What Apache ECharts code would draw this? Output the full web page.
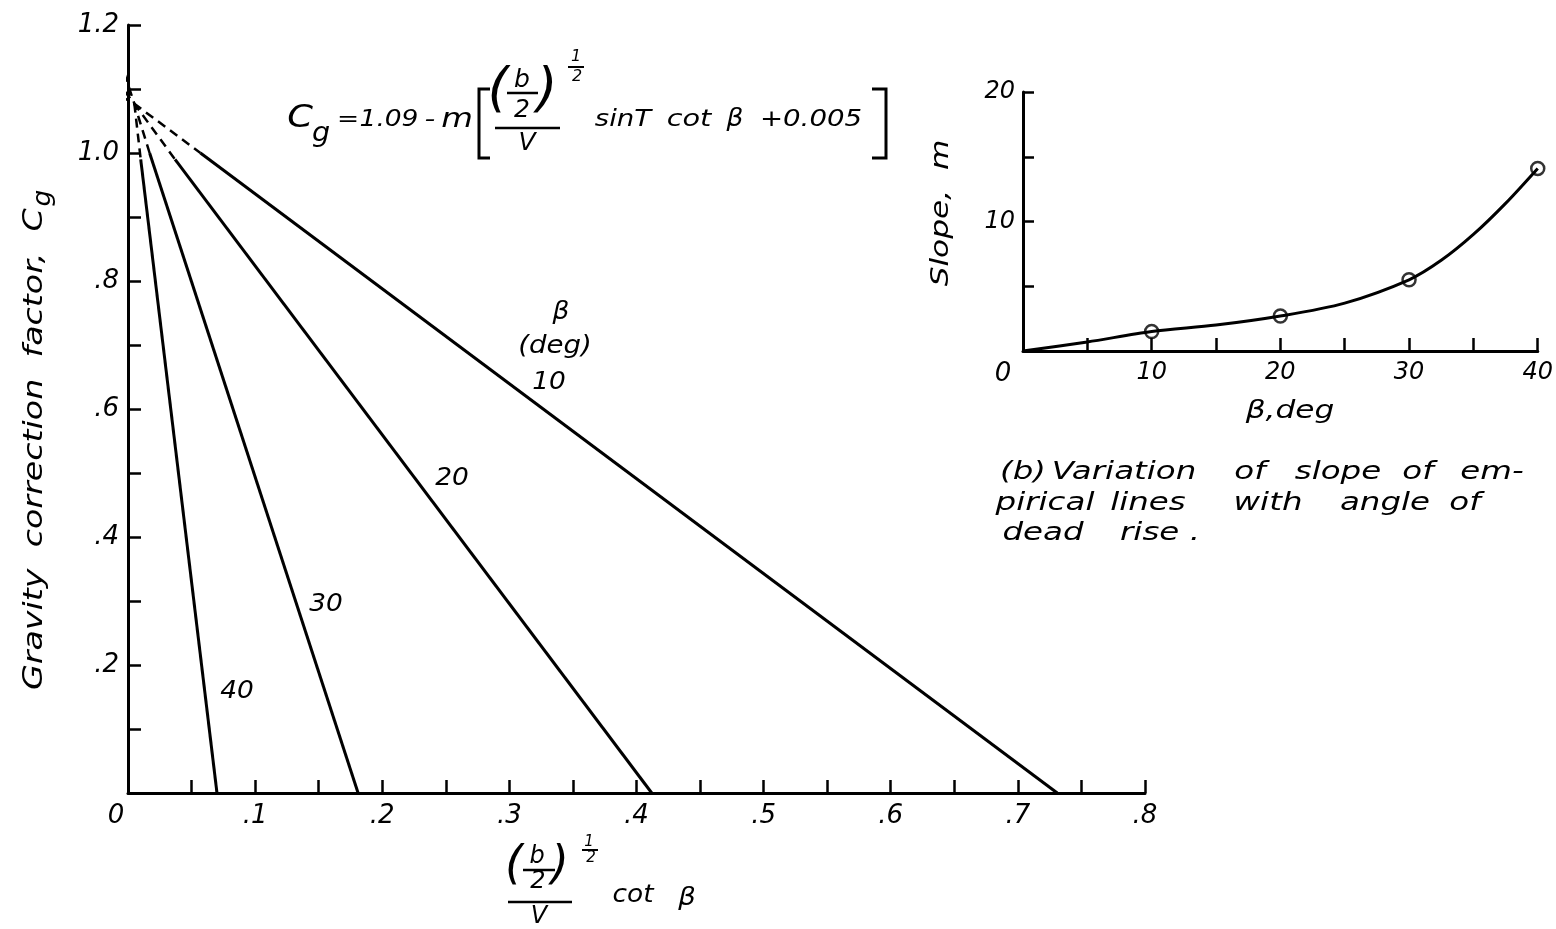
<!DOCTYPE html>
<html><head><meta charset="utf-8">
<script src="https://cdn.jsdelivr.net/npm/echarts@6/dist/echarts.min.js"></script>
<style>html,body{margin:0;padding:0;background:#fff}#c{width:1556px;height:929px}</style>
</head><body><div id="c"></div>
<script>
// ---- main chart data: empirical lines, one per dead-rise angle ----
const betaLabels = ['10', '20', '30', '40'];
const convergence = [0.005, 1.077];
const dashTopX = [-0.016, -0.010, -0.003, null];
const dashTopY = [1.100, 1.115, 1.125, null];
const solidStartX = [0.057, 0.037, 0.017, 0.010];
const solidStartY = [1.000, 0.990, 1.000, 0.990];
const xIntercept = [0.731, 0.412, 0.181, 0.070];
const mainXTicks = ['0', '.1', '.2', '.3', '.4', '.5', '.6', '.7', '.8'];
const mainYTicks = ['', '.2', '.4', '.6', '.8', '1.0', '1.2'];

// ---- inset (b): slope m vs beta ----
const slopeBeta = [10, 20, 30, 40];
const slopeM = [1.5, 2.7, 5.5, 14.1];
const curveBeta = [0, 5, 10, 15, 20, 25, 30, 32.5, 35, 37.5, 40];
const curveM = [0, 0.7, 1.5, 2.0, 2.7, 3.7, 5.5, 7.0, 9.0, 11.4, 14.1];
const insetXTicks = ['0', '10', '20', '30', '40'];
const insetYTicks = ['', '10', '20'];

const FF = '"DejaVu Sans"';
const fnt = s => `italic ${s}px ${FF}`;
function T(text, x, y, size, sx, extra) {
  return Object.assign({type: 'text', x: x, y: y, silent: true, z: 10, scaleX: sx || 1,
    style: {text: text, x: 0, y: 0, font: fnt(size), fill: '#000',
      align: 'center', verticalAlign: 'middle', textAlign: 'center', textVerticalAlign: 'middle'}}, extra || {});
}
function L(points, w) {
  return {type: 'polyline', silent: true, z: 10, shape: {points: points},
    style: {stroke: '#000', lineWidth: w || 2.5, fill: null}};
}
function pick(arr, v, step) {
  const k = v / step, r = Math.round(k);
  return Math.abs(k - r) < 1e-6 ? (arr[r] !== undefined ? arr[r] : '') : '';
}

const chart = echarts.init(document.getElementById('c'), null, {renderer: 'canvas'});

const axisBase = (fs) => ({
  type: 'value',
  axisLine: {show: true, onZero: false, lineStyle: {color: '#000', width: 3}},
  splitLine: {show: false},
  axisTick: {show: true, inside: true, length: 13, lineStyle: {color: '#000', width: 2.5}},
  axisLabel: {color: '#000', fontFamily: 'DejaVu Sans', fontStyle: 'italic', fontSize: fs, showMinLabel: true, showMaxLabel: true}
});

const series = [];
betaLabels.forEach((b, i) => {
  const dashed = [];
  if (dashTopX[i] !== null) dashed.push([dashTopX[i], dashTopY[i]]);
  dashed.push([convergence[0], convergence[1]]);
  dashed.push([solidStartX[i], solidStartY[i]]);
  series.push({type: 'line', name: b + ' dashed', xAxisIndex: 0, yAxisIndex: 0, data: dashed,
    symbol: 'none', clip: false, lineStyle: {color: '#000', width: 2.5, type: [9, 6]}});
  series.push({type: 'line', name: b, xAxisIndex: 0, yAxisIndex: 0,
    data: [[solidStartX[i], solidStartY[i]], [xIntercept[i], 0]],
    symbol: 'none', clip: false, lineStyle: {color: '#000', width: 3}});
});
series.push({type: 'line', xAxisIndex: 1, yAxisIndex: 1, data: curveBeta.map((b, i) => [b, curveM[i]]),
  smooth: 0.3, symbol: 'none', lineStyle: {color: '#000', width: 3}});
series.push({type: 'scatter', xAxisIndex: 1, yAxisIndex: 1, data: slopeBeta.map((b, i) => [b, slopeM[i]]),
  symbol: 'circle', symbolSize: 13, z: 5,
  itemStyle: {color: 'rgba(255,255,255,0)', borderColor: '#000', borderWidth: 2.5}});

// rotated y title with subscript g
const ctx = document.createElement('canvas').getContext('2d');
ctx.font = fnt(26);
const yTitle = 'Gravity  correction  factor,  C';
const yScale = 1.28;
const yTitleW = ctx.measureText(yTitle).width * yScale;
const yTitleCenter = 690 - yTitleW / 2;

const g = [];
g.push(T(yTitle, 35, yTitleCenter, 26, yScale, {rotation: Math.PI / 2}));
g.push(T('g', 44, 690 - yTitleW - 10, 24, 1.1, {rotation: Math.PI / 2}));
// equation at top
g.push(T('C', 300, 119, 32, 1.15));
g.push(T('g', 321, 134, 26, 1.1));
g.push(T('=', 348, 120, 22, 1.2));
g.push(T('1.09', 389, 120, 23, 1.15));
g.push(T('-', 430, 120, 23, 1.3));
g.push(T('m', 457, 120, 26, 1.25));
g.push(L([[490, 89], [479, 89], [479, 158], [490, 158]], 3));
g.push(T('(', 498, 92, 54));
g.push(T('b', 522, 80, 25));
g.push(L([[507, 93], [538, 93]], 2.5));
g.push(T('2', 522, 110, 25));
g.push(T(')', 547, 92, 54));
g.push(T('1', 576, 57, 16));
g.push(L([[568, 67], [584, 67]], 2));
g.push(T('2', 577, 77, 16));
g.push(L([[495, 128], [560, 128]], 2.5));
g.push(T('V', 527, 143, 25));
g.push(T('sinT', 623, 120, 23, 1.2));
g.push(T('cot', 689, 120, 23, 1.25));
g.push(T('β', 735, 120, 24, 1.1));
g.push(T('+0.005', 811, 120, 23, 1.2));
g.push(L([[872, 89], [886, 89], [886, 158], [872, 158]], 3));
// x-axis title
g.push(T('(', 514, 866, 46));
g.push(T('b', 537, 857, 24));
g.push(L([[523, 870], [555, 870]], 2.5));
g.push(T('2', 538, 882, 24));
g.push(T(')', 560, 866, 46));
g.push(T('1', 589, 842, 15));
g.push(L([[582, 850], [598, 850]], 2));
g.push(T('2', 591, 858, 15));
g.push(L([[508, 902], [572, 902]], 2.5));
g.push(T('V', 539, 917, 24));
g.push(T('cot', 633, 896, 24, 1.1));
g.push(T('β', 687, 898, 25, 1.1));
// line labels
g.push(T('β', 561, 313, 24, 1.1));
g.push(T('(deg)', 555, 347, 24, 1.15));
g.push(T('10', 549, 383, 24, 1.1));
g.push(T('20', 452, 479, 24, 1.1));
g.push(T('30', 326, 605, 24, 1.1));
g.push(T('40', 237, 692, 24, 1.1));
// inset titles
g.push(T('Slope,  m', 942, 213, 24, 1.3, {rotation: Math.PI / 2}));
g.push(T('β,deg', 1290, 412, 24, 1.3));
// caption words
const cap = [
  ['(b)', 1023, 472], ['Variation', 1124, 472], ['of', 1250, 472], ['slope', 1338, 472], ['of', 1418, 472], ['em-', 1492, 472],
  ['pirical', 1045, 503], ['lines', 1148, 503], ['with', 1268, 503], ['angle', 1385, 503], ['of', 1465, 503],
  ['dead', 1043, 533], ['rise .', 1160, 533]
];
cap.forEach(c => g.push(T(c[0], c[1], c[2], 25, 1.3)));

const zeroRich = (pad) => ({z: {color: '#000', fontFamily: 'DejaVu Sans', fontStyle: 'italic', fontSize: 26, padding: [0, pad, 0, 0]}});

const xa0 = axisBase(26);
Object.assign(xa0, {gridIndex: 0, min: 0, max: 0.8, interval: 0.05});
xa0.axisLabel = Object.assign({}, xa0.axisLabel, {margin: 10, rich: zeroRich(24),
  formatter: v => { const s = pick(mainXTicks, v, 0.1); return v === 0 ? '{z|' + s + '}' : s; }});
const ya0 = axisBase(26);
Object.assign(ya0, {gridIndex: 0, min: 0, max: 1.2, interval: 0.1});
ya0.axisLabel = Object.assign({}, ya0.axisLabel, {margin: 9, formatter: v => pick(mainYTicks, v, 0.2)});
const xa1 = axisBase(24);
Object.assign(xa1, {gridIndex: 1, min: 0, max: 40, interval: 5});
xa1.axisLabel = Object.assign({}, xa1.axisLabel, {margin: 10, rich: zeroRich(40),
  formatter: v => { const s = pick(insetXTicks, v, 10); return v === 0 ? '{z|' + s + '}' : s; }});
const ya1 = axisBase(24);
Object.assign(ya1, {gridIndex: 1, min: 0, max: 20, interval: 5});
ya1.axisTick = Object.assign({}, ya1.axisTick, {length: 11});
ya1.axisLabel = Object.assign({}, ya1.axisLabel, {margin: 8, formatter: v => pick(insetYTicks, v, 10)});

chart.setOption({
  animation: false,
  backgroundColor: '#fff',
  grid: [
    {left: 128, right: 411, top: 25, bottom: 136, containLabel: false},
    {left: 1023, right: 18, top: 92, bottom: 578, containLabel: false}
  ],
  xAxis: [xa0, xa1],
  yAxis: [ya0, ya1],
  series: series,
  graphic: {elements: g}
});
</script></body></html>
